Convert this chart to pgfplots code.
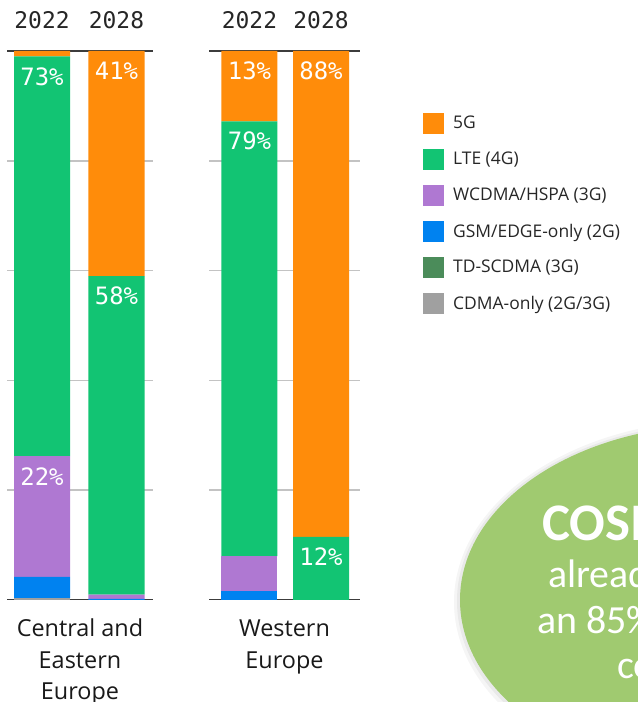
\documentclass[border=0pt]{standalone}
\usepackage{pgfplots}
\pgfplotsset{compat=1.18}
\usepackage{fontspec}
\setmainfont{Lato}
\newfontfamily\monof{DejaVu Sans Mono}
\newfontfamily\calib{Carlito}
\newfontfamily\legf{Open Sans}
\definecolor{c5g}{RGB}{255,140,10}
\definecolor{clte}{RGB}{18,196,115}
\definecolor{cwcd}{RGB}{175,120,210}
\definecolor{cgsm}{RGB}{0,130,240}
\definecolor{ctd}{RGB}{75,140,90}
\definecolor{ccdma}{RGB}{160,160,160}
\definecolor{cell}{RGB}{160,202,112}
\definecolor{gridc}{RGB}{195,195,195}
\definecolor{axc}{RGB}{60,60,60}
\tikzset{
  pct/.style={text=white, font=\monof\fontsize{24}{24}\selectfont},
  yr/.style={text=black!85, font=\monof\fontsize{23}{23}\selectfont, yshift=31bp},
  cat/.style={anchor=base, inner sep=0pt, text=black!90, font=\legf\fontsize{23.5}{23.5}\selectfont},
}
\pgfplotsset{
  sqlegend/.style={legend image code/.code={\fill[##1] (0bp,-10.5bp) rectangle (21bp,10.5bp); \path (30bp,0bp);}},
  myax/.style={
    anchor=south west, scale only axis, height=549bp,
    ybar stacked, bar width=56bp, ymin=0, ymax=100,
    axis line style={draw=none}, ytick={20,40,60,80}, yticklabels={}, xtick=\empty,
    major tick length=0pt, ymajorgrids, grid style={gridc, line width=1.6bp},
    every axis plot/.append style={draw=none},
  },
}
\pgfplotstableread{
x cdma td gsm wcdma lte fiveg
0 0.4 0 3.8 22.0 72.8 1.0
1 0.0 0 0.2 0.8 58.0 41.0
}\ceetab
\pgfplotstableread{
x cdma td gsm wcdma lte fiveg
0 0 0 1.6 6.4 79.2 12.8
1 0 0 0.0 0.0 11.5 88.5
}\wetab
\begin{document}
\begin{tikzpicture}
\begin{scope}
\clip (0bp,0bp) rectangle (638bp,702bp);
% callout ellipse
\fill[black, opacity=0.04] (721bp,100bp) ellipse [x radius=267bp, y radius=182bp];
\fill[black, opacity=0.05] (720bp,101bp) ellipse [x radius=263bp, y radius=178bp];
\fill[cell] (720bp,102bp) ellipse [x radius=260bp, y radius=175bp];
\node[anchor=base west, text=white, font=\calib\bfseries\fontsize{53}{53}\selectfont, inner sep=0pt] at (542bp,161bp) {COSMOTE};
\node[anchor=base west, text=white, font=\calib\fontsize{40}{40}\selectfont, inner sep=0pt] at (548bp,114bp) {already};
\node[anchor=base west, text=white, font=\calib\fontsize{40}{40}\selectfont, inner sep=0pt] at (537bp,68bp) {an 85\% 5G};
\node[anchor=base west, text=white, font=\calib\fontsize{40}{40}\selectfont, inner sep=0pt] at (617bp,24bp) {coverage};

% Central and Eastern Europe
\begin{axis}[myax, at={(7bp,102bp)}, width=146bp, xmin=-0.47, xmax=1.49]
\addplot[fill=ccdma] table[x=x,y=cdma] {\ceetab};
\addplot[fill=ctd] table[x=x,y=td] {\ceetab};
\addplot[fill=cgsm] table[x=x,y=gsm] {\ceetab};
\addplot[fill=cwcd] table[x=x,y=wcdma] {\ceetab};
\addplot[fill=clte] table[x=x,y=lte] {\ceetab};
\addplot[fill=c5g] table[x=x,y=fiveg] {\ceetab};
\draw[axc, line width=2.2bp] (rel axis cs:0,0) -- (rel axis cs:1,0);
\draw[axc, line width=2.2bp] (rel axis cs:0,1) -- (rel axis cs:1,1);
\coordinate (a1) at (axis cs:0,99);
\coordinate (a2) at (axis cs:0,26.2);
\coordinate (a3) at (axis cs:1,100);
\coordinate (a4) at (axis cs:1,59);
\coordinate (a5) at (axis cs:0,100);
\coordinate (a6) at (rel axis cs:0.5,0);
\end{axis}
\node[pct, yshift=-20bp] at (a1) {73\%};
\node[pct, yshift=-20bp] at (a2) {22\%};
\node[pct, yshift=-20bp] at (a3) {41\%};
\node[pct, yshift=-20bp] at (a4) {58\%};
\node[yr] at (a5) {2022};
\node[yr] at (a3) {2028};
\node[cat, yshift=-37bp] at (a6) {Central and};
\node[cat, yshift=-68bp] at (a6) {Eastern};
\node[cat, yshift=-99bp] at (a6) {Europe};

% Western Europe
\begin{axis}[myax, at={(209bp,102bp)}, width=151bp, xmin=-0.566, xmax=1.545,
  reverse legend,
  legend style={draw=none, fill=none, inner sep=0pt, at={(axis description cs:1.417,0.888)}, anchor=north west,
    row sep=15bp, font=\legf\fontsize{17.5}{17.5}\selectfont, nodes={inner sep=0pt, text=black!85}},
  legend cell align=left]
\addplot[fill=ccdma, sqlegend] table[x=x,y=cdma] {\wetab};
\addplot[fill=ctd, sqlegend] table[x=x,y=td] {\wetab};
\addplot[fill=cgsm, sqlegend] table[x=x,y=gsm] {\wetab};
\addplot[fill=cwcd, sqlegend] table[x=x,y=wcdma] {\wetab};
\addplot[fill=clte, sqlegend] table[x=x,y=lte] {\wetab};
\addplot[fill=c5g, sqlegend] table[x=x,y=fiveg] {\wetab};
\legend{CDMA-only (2G/3G), TD-SCDMA (3G), GSM/EDGE-only (2G), WCDMA/HSPA (3G), LTE (4G), 5G}
\draw[axc, line width=2.2bp] (rel axis cs:0,0) -- (rel axis cs:1,0);
\draw[axc, line width=2.2bp] (rel axis cs:0,1) -- (rel axis cs:1,1);
\coordinate (b1) at (axis cs:0,100);
\coordinate (b2) at (axis cs:0,87.2);
\coordinate (b3) at (axis cs:1,100);
\coordinate (b4) at (axis cs:1,11.5);
\coordinate (b6) at (rel axis cs:0.5,0);
\end{axis}
\node[pct, yshift=-20bp] at (b1) {13\%};
\node[pct, yshift=-20bp] at (b2) {79\%};
\node[pct, yshift=-20bp] at (b3) {88\%};
\node[pct, yshift=-20bp] at (b4) {12\%};
\node[yr] at (b1) {2022};
\node[yr] at (b3) {2028};
\node[cat, yshift=-37bp] at (b6) {Western};
\node[cat, yshift=-68bp] at (b6) {Europe};
\end{scope}
\pgfresetboundingbox
\useasboundingbox (0bp,0bp) rectangle (638bp,702bp);
\end{tikzpicture}
\end{document}
